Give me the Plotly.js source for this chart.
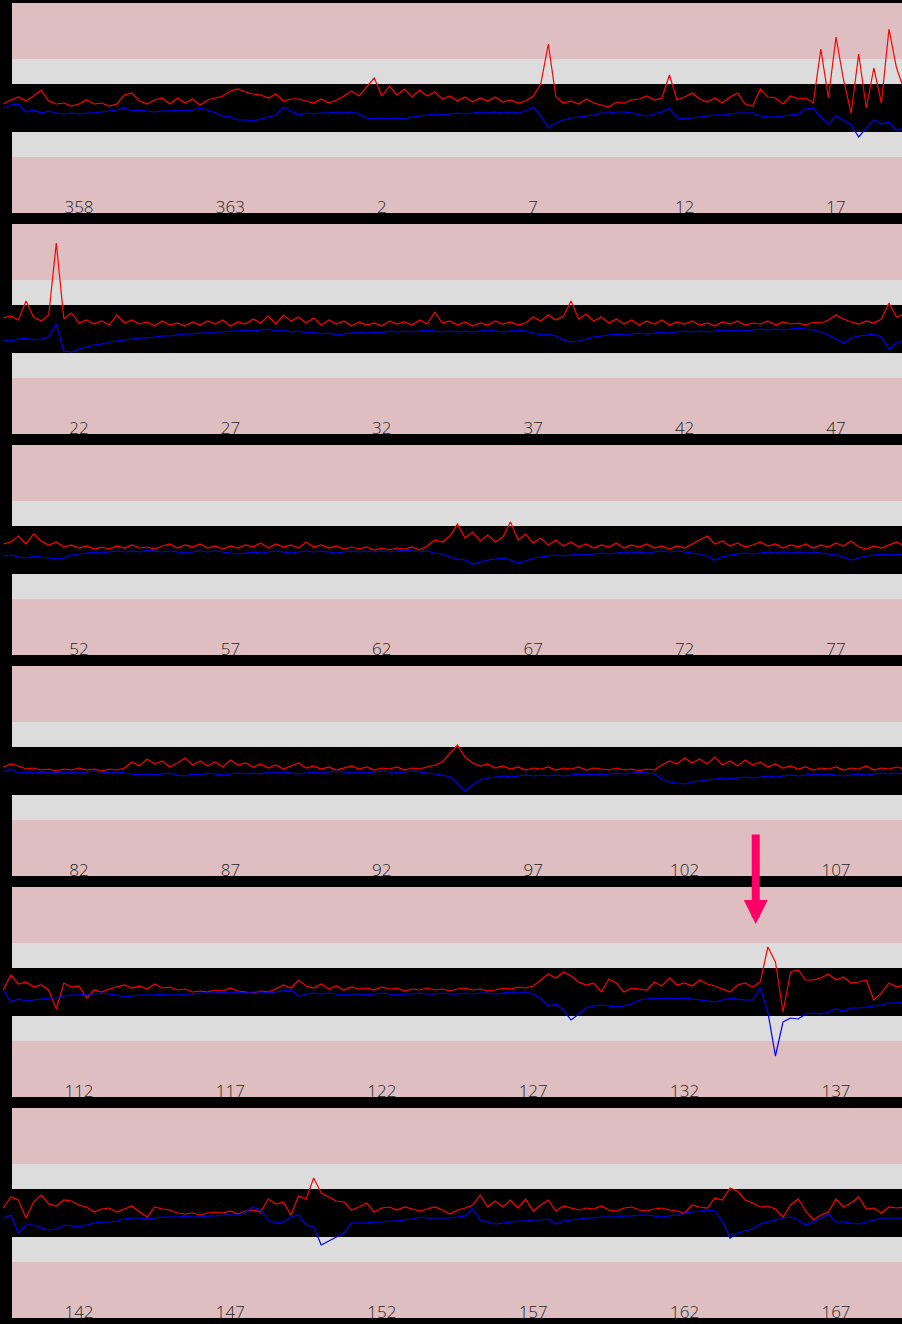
<!DOCTYPE html>
<html><head><meta charset="utf-8">
<script src="https://cdn.plot.ly/plotly-3.0.1.min.js"></script>
<style>html,body{margin:0;padding:0;background:#000;overflow:hidden}#chart{width:902px;height:1324px}</style>
</head><body><div id="chart"></div>
<script>
// Sampling: each panel starts at panelStart (continuous day index), one sample every 0.25 day
const panelStart = [355.5, 385.5, 415.5, 445.5, 475.5, 505.5];
const step = 0.25;

const red1 = [4,8,11,7,12,18,7,4,5,2, 4,8,4,5,2,4,13,15,7,4, 8,10,4,10,5,9,3,8,10,12, 17,19,16,14,13,10,14,7,9,9,
  7,5,9,5,8,12,17,12,21,30, 12,22,13,19,11,18,12,16,9,12, 7,11,6,10,7,11,6,8,5,7, 12,24,64,11,5,7,4,9,5,3,
  1,6,5,8,9,12,8,10,33,8, 11,15,9,6,10,5,11,15,4,2, 19,11,10,4,12,9,10,5,59,10, 71,28,-5,54,0,40,5,79,40,18];
const blue1 = [0,3,4,-4,-2,-5,-3,-5,-6,-5, -6,-5,-5,-4,-3,-2,0,-3,-2,-3, -4,-3,-3,-2,-3,-2,0,-2,-5,-8, -9,-12,-12,-13,-11,-9,-7,1,-3,-7,
  -5,-6,-5,-5,-4,-5,-4,-6,-10,-11, -10,-11,-10,-11,-9,-8,-7,-6,-7,-6, -5,-6,-5,-4,-5,-4,-5,-4,-5,-3, 1,-8,-20,-15,-12,-10,-9,-8,-7,-5,
  -5,-4,-4,-5,-7,-8,-6,-4,0,-10, -11,-10,-9,-8,-7,-7,-6,-5,-5,-5, -8,-9,-9,-8,-7,-6,-1,0,-9,-16, -8,-12,-17,-29,-20,-12,-16,-14,-22,-20];

const red2 = [11,13,9,28,12,8,14,86,10,16, 6,9,5,8,4,14,6,9,5,7, 3,8,4,6,3,7,4,8,5,9, 3,7,5,10,6,13,5,14,8,12,
  6,11,4,9,5,8,3,7,4,6, 3,8,5,7,4,9,5,17,6,8, 4,7,3,6,4,8,5,7,4,6, 12,8,14,9,13,28,10,15,8,12,
  6,10,5,9,4,8,5,9,4,7, 5,8,4,6,3,7,5,8,4,6, 5,8,4,7,5,6,4,7,6,9, 14,10,7,5,8,6,10,26,12,15];
const blue2 = [-11,-12,-10,-9,-11,-10,-8,5,-22,-23, -20,-18,-16,-15,-13,-12,-11,-10,-9,-9, -8,-7,-7,-6,-5,-5,-4,-4,-3,-3, -2,-2,-1,-2,-1,0,-2,-1,-3,-2,
  -4,-3,-5,-4,-6,-5,-4,-3,-4,-3, -4,-2,-3,-2,-3,-2,-1,-2,-3,-2, -3,-2,-3,-2,-1,-2,-3,-2,-1,-2, -4,-6,-5,-7,-11,-13,-12,-10,-8,-7,
  -6,-5,-6,-5,-4,-5,-4,-3,-4,-3, -2,-3,-2,-3,-2,-1,-2,-1,-2,-1, 0,-1,0,-1,0,1,0,-1,-3,-6, -10,-14,-9,-7,-6,-5,-8,-20,-14,-11];

const red3 = [6,8,14,6,16,9,5,8,3,5, 2,4,1,3,1,4,2,5,2,3, 1,4,6,2,5,3,6,2,4,1, 4,2,5,3,7,2,6,3,5,2,
  8,3,5,2,4,1,3,1,3,0, 2,0,2,1,3,0,4,10,8,14, 26,12,18,9,15,8,13,28,10,16, 7,12,5,10,4,8,3,6,2,5,
  3,7,2,5,3,6,2,4,1,4, 2,6,10,14,6,9,4,7,3,5, 8,4,6,2,5,3,6,2,5,3, 7,4,9,3,1,4,2,5,8,4];
const blue3 = [-6,-5,-7,-8,-6,-7,-8,-9,-8,-5, -4,-3,-2,-3,-2,-1,-2,-1,-2,0, -1,-2,-1,-2,-3,-2,-1,-2,-1,-2, -3,-4,-3,-2,-3,-2,-1,-2,-3,-2,
  -1,-2,-1,-2,-3,-2,-1,-2,-1,-2, -1,-2,-1,0,-1,-2,-1,-3,-4,-7, -9,-10,-14,-12,-10,-9,-8,-10,-13,-11, -8,-7,-6,-5,-6,-5,-4,-5,-4,-3,
  -4,-3,-2,-3,-2,-3,-2,-1,-2,-1, -2,-3,-4,-6,-10,-7,-5,-4,-3,-4, -3,-2,-3,-2,-3,-2,-3,-2,-3,-4, -5,-7,-10,-8,-6,-5,-4,-5,-4,-5];

const red4 = [4,7,5,2,3,1,2,0,2,1, 3,1,2,0,2,1,3,9,5,12, 7,10,4,8,13,6,10,5,9,4, 11,6,8,4,7,3,6,2,5,8,
  3,5,2,4,1,3,5,2,4,1, 3,2,4,1,3,2,4,6,9,18, 26,14,8,5,7,3,5,2,4,1, 3,2,4,1,3,2,4,1,3,2,
  1,3,1,2,0,2,1,6,10,7, 13,8,12,7,14,6,10,5,11,6, 9,4,7,3,5,2,4,1,3,2, 4,1,3,2,5,1,3,2,4,2];
const blue4 = [-1,2,-2,-1,-2,-1,-2,-1,-2,-1, -2,-1,0,-1,-2,-1,-2,-3,-4,-3, -4,-3,-2,-4,-5,-3,-4,-2,-3,-4, -3,-2,-3,-2,-3,-1,-2,-1,-2,-3,
  -2,-1,-2,-1,0,-1,-2,-1,-2,-1, 0,-1,-2,-1,0,-1,-2,-3,-4,-6, -12,-20,-14,-9,-7,-6,-5,-6,-5,-4, -5,-4,-5,-4,-5,-4,-3,-4,-3,-4,
  -3,-2,-3,-2,-1,-2,-3,-8,-11,-12, -13,-11,-10,-9,-8,-7,-8,-7,-6,-7, -6,-5,-6,-5,-4,-5,-4,-3,-4,-3, -4,-5,-4,-3,-4,-3,-2,-3,-2,-3];

const red5 = [2,17,8,10,5,7,2,-17,9,5, 6,-6,2,0,3,5,7,4,6,3, 8,4,5,2,3,0,1,0,2,1, 4,1,0,-1,1,0,3,7,4,12,
  6,4,8,3,6,2,5,3,4,2, 5,3,4,1,3,2,4,2,3,1, 3,4,2,3,1,2,4,3,5,4, 6,12,18,14,20,16,10,7,9,0,
  13,9,0,4,3,2,10,6,14,7, 9,6,12,8,6,3,0,7,9,5, 10,45,30,-20,20,22,12,12,14,18, 12,15,9,10,12,-8,-1,9,5,7];
const blue5 = [2,-10,-7,-9,-8,-7,-6,-6,-4,-3, -3,-2,-2,-1,-2,-3,-5,-4,-3,-3, -3,-2,-3,-3,-2,-2,-1,-1,-1,0, -1,0,-1,0,0,-1,0,1,2,-4,
  -2,-1,-2,-1,-2,-3,-2,-2,-3,-2, -1,-2,-3,-2,-2,-1,-2,-2,-1,-2, -2,-1,-2,-1,-1,-2,-1,0,-1,0, -2,-6,-14,-12,-18,-28,-22,-16,-14,-13,
  -14,-15,-14,-12,-8,-7,-6,-7,-6,-7, -6,-7,-8,-9,-10,-8,-6,-7,-8,-8, 4,-20,-64,-30,-26,-27,-22,-21,-22,-20, -17,-19,-16,-16,-15,-14,-13,-11,-11,-10];

const red6 = [5,16,13,-5,11,18,9,7,13,12, 8,6,1,4,5,1,4,7,1,-4, 6,4,3,0,-1,0,-2,0,1,0, 2,-1,2,3,1,14,9,11,-2,17,
  14,35,20,16,12,11,3,6,10,1, 5,6,3,6,4,2,4,6,3,-1, 3,5,8,18,6,12,6,13,5,14, 2,8,13,2,7,5,3,5,4,7,
  3,2,5,6,3,2,4,5,3,2, 0,8,6,5,15,13,25,22,13,10, 6,7,4,-4,8,14,2,-7,-2,1, 14,6,10,16,4,5,0,6,5,6];
const blue6 = [-5,-2,-20,-12,-12,-15,-17,-16,-12,-13, -14,-12,-10,-9,-9,-8,-6,-5,-5,-6, -5,-4,-4,-4,-3,-4,-4,-3,-3,-2, -2,-2,1,6,3,-7,-10,-9,-4,-2,
  -12,-14,-32,-28,-24,-20,-10,-10,-10,-9, -9,-8,-8,-7,-6,-4,-5,-5,-5,-5, -4,-3,4,-7,-9,-11,-10,-9,-8,-8, -7,-7,-6,-11,-8,-7,-6,-5,-5,-4,
  -4,-4,-3,-3,-2,-2,-3,-4,-3,-2, 0,1,2,3,2,-8,-25,-20,-18,-16, -11,-9,-7,-5,-4,-7,-12,-9,-5,-1, -9,-9,-10,-11,-9,-7,-5,-5,-5,-5];

// Tick positions (continuous day index) and their labels (day of year)
const tickPos = [
  [358,363,368,373,378,383],
  [388,393,398,403,408,413],
  [418,423,428,433,438,443],
  [448,453,458,463,468,473],
  [478,483,488,493,498,503],
  [508,513,518,523,528,533]
];
const tickLabels = [
  ['358','363','2','7','12','17'],
  ['22','27','32','37','42','47'],
  ['52','57','62','67','72','77'],
  ['82','87','92','97','102','107'],
  ['112','117','122','127','132','137'],
  ['142','147','152','157','162','167']
];
// marked event (arrow) in panel 5
const eventDay = 500.35;

const reds = [red1, red2, red3, red4, red5, red6];
const blues = [blue1, blue2, blue3, blue4, blue5, blue6];

const W = 902, H = 1324;
const PINK = '#debec0', GREY = '#dcdcdc';
const traces = [];
const layout = {
  width: W, height: H,
  margin: {l: 0, r: 0, t: 0, b: 0},
  paper_bgcolor: '#000', plot_bgcolor: '#000',
  showlegend: false,
  shapes: [], annotations: []
};
for (let k = 0; k < 6; k++) {
  const s = k === 0 ? '' : String(k + 1);
  const xs = reds[k].map((_, i) => panelStart[k] + step * i);
  traces.push({x: xs, y: reds[k], xaxis: 'x' + s, yaxis: 'y' + s, type: 'scatter', mode: 'lines',
    line: {color: '#ff0000', width: 1.2}, hoverinfo: 'skip'});
  traces.push({x: xs, y: blues[k], xaxis: 'x' + s, yaxis: 'y' + s, type: 'scatter', mode: 'lines',
    line: {color: '#0000ff', width: 1.2}, hoverinfo: 'skip'});
  const top = 3 + 221 * k, bottom = top + 210;
  const x0 = 355.49 + 30 * k;
  layout['xaxis' + s] = {
    domain: [3 / W, 1], range: [x0, x0 + 29.69], anchor: 'y' + s,
    tickmode: 'array', tickvals: tickPos[k], ticktext: tickLabels[k],
    showgrid: false, zeroline: false, showline: false, ticks: '',
    tickfont: {family: 'Open Sans', size: 17, color: '#1e1e1e', weight: 300},
    ticklabelstandoff: -18, fixedrange: true
  };
  layout['yaxis' + s] = {
    domain: [1 - bottom / H, 1 - top / H], range: [-105, 105], anchor: 'x' + s,
    visible: false, fixedrange: true
  };
  layout.shapes.push({type: 'rect', xref: 'x' + s + ' domain', yref: 'y' + s + ' domain',
    x0: 9 / 899, x1: 1, y0: 0, y1: 1, fillcolor: PINK, line: {width: 0}, layer: 'below'});
  layout.shapes.push({type: 'rect', xref: 'x' + s + ' domain', yref: 'y' + s,
    x0: 9 / 899, x1: 1, y0: -49, y1: 49, fillcolor: GREY, line: {width: 0}, layer: 'below'});
  layout.shapes.push({type: 'rect', xref: 'x' + s + ' domain', yref: 'y' + s,
    x0: 9 / 899, x1: 1, y0: -24, y1: 24, fillcolor: '#000000', line: {width: 0}, layer: 'below'});
}
layout.annotations.push({xref: 'x5', yref: 'y5', x: eventDay, y: 68, ax: 0, ay: -91,
  text: '', showarrow: true, arrowhead: 2, arrowsize: 0.6, arrowwidth: 8, arrowcolor: '#ff0066', standoff: 0});

Plotly.newPlot('chart', traces, layout, {displayModeBar: false, staticPlot: true});
</script>
</body></html>
